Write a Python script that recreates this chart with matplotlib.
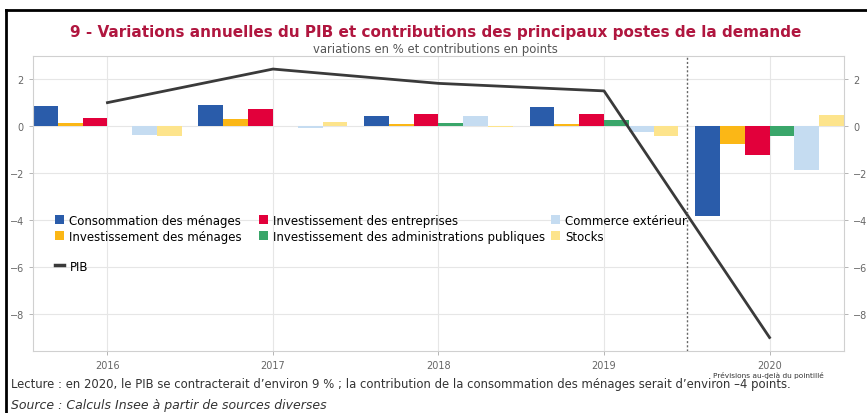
import numpy as np
import matplotlib.pyplot as plt
from matplotlib.lines import Line2D

years = ['2016', '2017', '2018', '2019', '2020']
conso_menages = [0.85, 0.88, 0.45, 0.80, -3.82]
invest_menages = [0.12, 0.31, 0.10, 0.10, -0.78]
invest_entreprises = [0.35, 0.71, 0.50, 0.50, -1.25]
invest_apu = [0.02, 0.02, 0.12, 0.28, -0.40]
commerce_ext = [-0.38, -0.06, 0.45, -0.27, -1.86]
stocks = [-0.40, 0.17, -0.05, -0.43, 0.46]
pib = [1.0, 2.43, 1.82, 1.50, -9.0]

series = [
	('Consommation des ménages', conso_menages, '#2a5caa'),
	('Investissement des ménages', invest_menages, '#fbb716'),
	('Investissement des entreprises', invest_entreprises, '#e2003b'),
	('Investissement des administrations publiques', invest_apu, '#3aa66a'),
	('Commerce extérieur', commerce_ext, '#c5dcf1'),
	('Stocks', stocks, '#fde48c'),
]

fig = plt.figure(figsize=(8.67, 4.14), dpi=100)
ax = fig.add_axes([0.038, 0.150, 0.9355, 0.712])

x = np.arange(len(years))
w = 0.15
handles = []
for i, (name, vals, col) in enumerate(series):
	b = ax.bar(x + (i - 2.5) * w, vals, w, color=col, label=name, zorder=2)
	handles.append(b)

line, = ax.plot(x, pib, color='#3a3a3a', lw=2, label='PIB', zorder=3)
ax.axvline(3.5, color='#666666', ls=(0, (1.5, 1.5)), lw=1, zorder=3)

ax.set_xlim(-0.45, 4.45)
ax.set_ylim(-9.57, 2.98)
ax.set_yticks([-8, -6, -4, -2, 0, 2])
ax.set_yticklabels(['\u22128', '\u22126', '\u22124', '\u22122', '0', '2'])
ax.set_xticks(x)
ax.set_xticklabels(years)
ax.grid(True, color='#e6e6e6', lw=0.8, zorder=0)
ax.set_axisbelow(True)
ax.tick_params(axis='both', colors='#aaaaaa', labelsize=7, length=3, width=0.6,
			   labelcolor='#666666')
ax.tick_params(axis='y', right=True, labelright=True)
for s in ax.spines.values():
	s.set_color('#d0d0d0')
	s.set_linewidth(0.8)

# legend: three columns placed by hand, then PIB alone below
legopts = dict(loc='upper left', frameon=False, fontsize=8.5, handlelength=0.75,
			   handleheight=0.75, handletextpad=0.4, labelspacing=0.25, borderpad=0)
for k, xa in enumerate([0.02, 0.272, 0.632]):
	hs = handles[2 * k:2 * k + 2]
	lg = ax.legend(handles=hs, labels=[h.get_label() for h in hs],
				   bbox_to_anchor=(xa, 0.485), **legopts)
	ax.add_artist(lg)
ax.legend(handles=[Line2D([0], [0], color='#3a3a3a', lw=2.5)], labels=['PIB'],
		  loc='upper left', bbox_to_anchor=(0.02, 0.33), frameon=False, fontsize=8.5,
		  handlelength=0.75, handletextpad=0.5, borderpad=0)

fig.text(0.502, 0.922, '9 - Variations annuelles du PIB et contributions des principaux postes de la demande',
		 ha='center', va='center', color='#b0163f', fontsize=11, fontweight='bold')
fig.text(0.502, 0.880, 'variations en % et contributions en points', ha='center', va='center',
		 color='#555555', fontsize=8.4)
fig.text(0.886, 0.093, 'Prévisions au-delà du pointillé', ha='center', va='center',
		 color='#333333', fontsize=5.3)
fig.text(0.013, 0.072, 'Lecture : en 2020, le PIB se contracterait d\u2019environ 9 % ; la contribution de la consommation des ménages serait d\u2019environ \u20134 points.',
		 ha='left', va='center', color='#333333', fontsize=8.4)
fig.text(0.013, 0.020, 'Source : Calculs Insee à partir de sources diverses', ha='left', va='center',
		 color='#333333', fontsize=9, style='italic')

fig.add_artist(Line2D([0.007, 0.007], [0, 0.973], color='black', lw=2, transform=fig.transFigure))
fig.add_artist(Line2D([0.007, 1.0], [0.973, 0.973], color='black', lw=2, transform=fig.transFigure))

plt.savefig('out.png', dpi=100)
